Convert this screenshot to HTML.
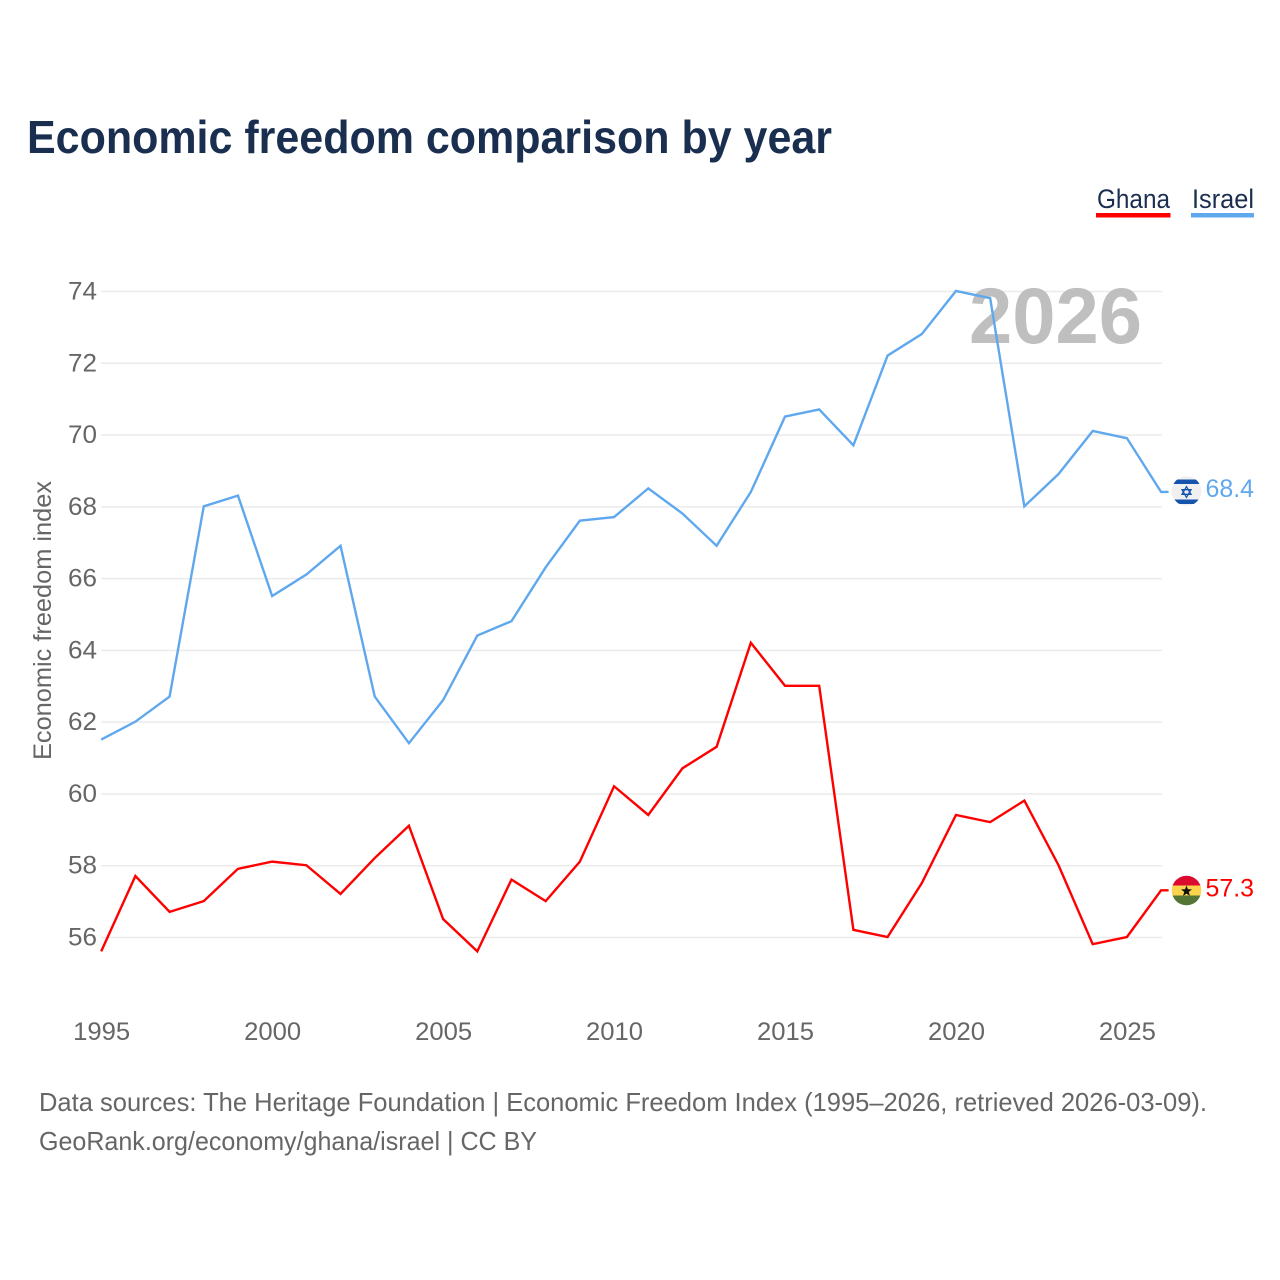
<!DOCTYPE html>
<html lang="en">
<head>
<meta charset="utf-8">
<title>Economic freedom comparison by year</title>
<style>
html,body{margin:0;padding:0;background:#fff;width:1280px;height:1280px;overflow:hidden}
svg{display:block}
text{font-family:"Liberation Sans",sans-serif}
</style>
</head>
<body>
<svg id="chart" xmlns="http://www.w3.org/2000/svg" width="1280" height="1280" viewBox="0 0 1280 1280">
  <rect x="0" y="0" width="1280" height="1280" fill="#fff"/>
  <text x="27" y="153" font-size="46" font-weight="700" fill="#1a2f4f" textLength="805" lengthAdjust="spacingAndGlyphs">Economic freedom comparison by year</text>

  <g>
    <text x="1097" y="208" font-size="27" fill="#1a2f4f" textLength="73" lengthAdjust="spacingAndGlyphs">Ghana</text>
    <rect x="1096" y="213" width="74.5" height="4.5" fill="#ff0000"/>
  </g>
  <g>
    <text x="1192" y="208" font-size="27" fill="#1a2f4f" textLength="62" lengthAdjust="spacingAndGlyphs">Israel</text>
    <rect x="1191" y="213" width="63" height="4.5" fill="#5fa8ee"/>
  </g>

  <g id="grid"></g>
  <g id="yticks"></g>
  <g id="xticks"></g>

  <text transform="translate(51,620.5) rotate(-90)" text-anchor="middle" font-size="25" fill="#666666" textLength="279" lengthAdjust="spacingAndGlyphs">Economic freedom index</text>

  <text x="969" y="343" font-size="79" font-weight="700" fill="#bfbfbf" textLength="173" lengthAdjust="spacingAndGlyphs">2026</text>

  <g id="series"></g>

  <g>
    <clipPath id="clip-israel"><circle cx="1186.5" cy="491" r="14.8"/></clipPath>
    <g clip-path="url(#clip-israel)">
      <rect x="1171" y="476" width="31" height="31" fill="#f0f0f0"/>
      <rect x="1171" y="479.5" width="31" height="4.5" fill="#1553ad"/>
      <rect x="1171" y="499.5" width="31" height="4.5" fill="#1553ad"/>
    </g>
    <polygon points="1186.5,486.7 1191,494.3 1182,494.3" fill="none" stroke="#1553ad" stroke-width="1.3"/>
    <polygon points="1186.5,497.3 1191,489.7 1182,489.7" fill="none" stroke="#1553ad" stroke-width="1.3"/>
  </g>
  <g>
    <clipPath id="clip-ghana"><circle cx="1186.5" cy="890.5" r="14.8"/></clipPath>
    <g clip-path="url(#clip-ghana)">
      <rect x="1171" y="875" width="31" height="10.5" fill="#dc0a2e"/>
      <rect x="1171" y="885.5" width="31" height="10" fill="#fbd34d"/>
      <rect x="1171" y="895.5" width="31" height="11" fill="#557535"/>
    </g>
    <polygon points="1186.5,885.5 1187.9,889.3 1192,889.4 1188.8,891.9 1189.9,895.9 1186.5,893.6 1183.1,895.9 1184.2,891.9 1181,889.4 1185.1,889.3" fill="#111"/>
  </g>

  <text x="1205.5" y="497" font-size="25" fill="#5fa8ee" textLength="48.5" lengthAdjust="spacingAndGlyphs">68.4</text>
  <text x="1205.5" y="896.5" font-size="25" fill="#ff0000" textLength="48.5" lengthAdjust="spacingAndGlyphs">57.3</text>

  <text x="39" y="1111" font-size="26" fill="#666666" textLength="1168" lengthAdjust="spacingAndGlyphs">Data sources: The Heritage Foundation | Economic Freedom Index (1995–2026, retrieved 2026-03-09).</text>
  <text x="39" y="1150" font-size="26" fill="#666666" textLength="498" lengthAdjust="spacingAndGlyphs">GeoRank.org/economy/ghana/israel | CC BY</text>
</svg>
<script>
const years = [1995,1996,1997,1998,1999,2000,2001,2002,2003,2004,2005,2006,2007,2008,2009,2010,2011,2012,2013,2014,2015,2016,2017,2018,2019,2020,2021,2022,2023,2024,2025,2026];
const ghanaValues = [55.6,57.7,56.7,57.0,57.9,58.1,58.0,57.2,58.2,59.1,56.5,55.6,57.6,57.0,58.1,60.2,59.4,60.7,61.3,64.2,63.0,63.0,56.2,56.0,57.5,59.4,59.2,59.8,58.0,55.8,56.0,57.3];
const israelValues = [61.5,62.0,62.7,68.0,68.3,65.5,66.1,66.9,62.7,61.4,62.6,64.4,64.8,66.3,67.6,67.7,68.5,67.8,66.9,68.4,70.5,70.7,69.7,72.2,72.8,74.0,73.8,68.0,68.9,70.1,69.9,68.4];
const yTickValues = [56,58,60,62,64,66,68,70,72,74];
const xTickValues = [1995,2000,2005,2010,2015,2020,2025];

const NS = 'http://www.w3.org/2000/svg';
function xScale(year){ return 101.2 + (year - 1995) * (1161.1 - 101.2) / 31; }
function yScale(value){ return 937.5 - (value - 56) * (937.5 - 291.5) / 18; }

const gridLayer = document.getElementById('grid');
const yLayer = document.getElementById('yticks');
const xLayer = document.getElementById('xticks');
const seriesLayer = document.getElementById('series');

yTickValues.forEach(function(v){
  const line = document.createElementNS(NS, 'line');
  
  
  line.setAttribute('x1', 101);
  line.setAttribute('x2', 1162);
  line.setAttribute('y1', yScale(v));
  line.setAttribute('y2', yScale(v));
  line.setAttribute('stroke', '#ebebeb');
  line.setAttribute('stroke-width', '1.5');
  gridLayer.appendChild(line);

  const label = document.createElementNS(NS, 'text');
  
  
  label.setAttribute('x', 68);
  label.setAttribute('y', yScale(v) + 8);
  label.setAttribute('font-size', '25');
  label.setAttribute('fill', '#666666');
  label.setAttribute('textLength', '29');
  label.setAttribute('lengthAdjust', 'spacingAndGlyphs');
  label.textContent = String(v);
  yLayer.appendChild(label);
});

xTickValues.forEach(function(year){
  const label = document.createElementNS(NS, 'text');
  
  
  label.setAttribute('x', xScale(year) - 28);
  label.setAttribute('y', 1040);
  label.setAttribute('font-size', '25');
  label.setAttribute('fill', '#666666');
  label.setAttribute('textLength', '57');
  label.setAttribute('lengthAdjust', 'spacingAndGlyphs');
  label.textContent = String(year);
  xLayer.appendChild(label);
});

function seriesY(value){ return yScale(value) - 0.5; }

function linePoints(values){
  const pts = values.map(function(v, i){ return xScale(years[i]) + ',' + seriesY(v); });
  pts.push((xScale(years[years.length - 1]) + 7.5) + ',' + seriesY(values[values.length - 1]));
  return pts.join(' ');
}

const ghanaLine = document.createElementNS(NS, 'polyline');


ghanaLine.setAttribute('points', linePoints(ghanaValues));
ghanaLine.setAttribute('fill', 'none');
ghanaLine.setAttribute('stroke', '#ff0000');
ghanaLine.setAttribute('stroke-width', '2.4');
seriesLayer.appendChild(ghanaLine);

const israelLine = document.createElementNS(NS, 'polyline');


israelLine.setAttribute('points', linePoints(israelValues));
israelLine.setAttribute('fill', 'none');
israelLine.setAttribute('stroke', '#5fa8ee');
israelLine.setAttribute('stroke-width', '2.4');
seriesLayer.appendChild(israelLine);
</script>
</body>
</html>
